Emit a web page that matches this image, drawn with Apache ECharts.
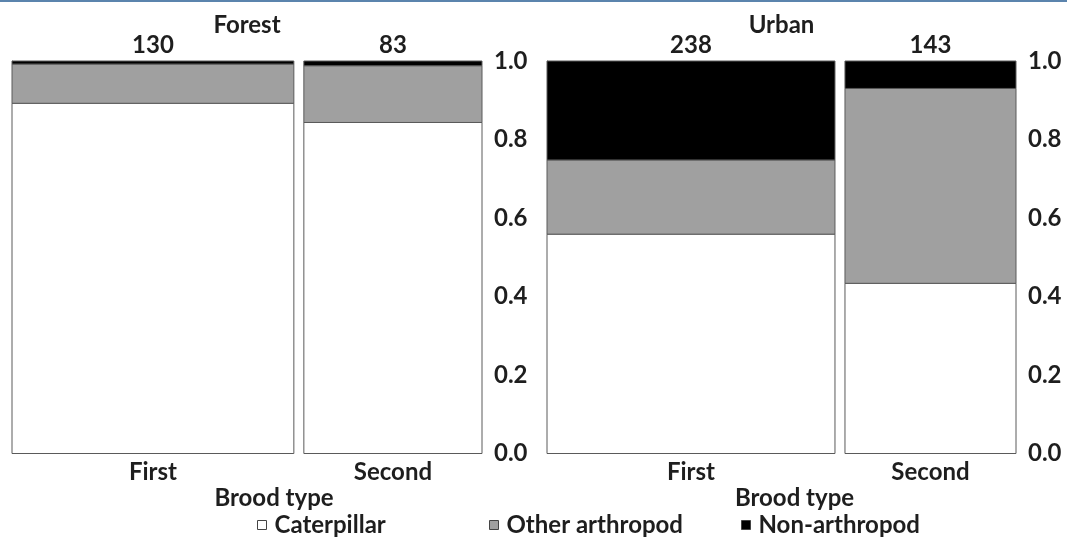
<!DOCTYPE html>
<html>
<head>
<meta charset="utf-8">
<script src="https://cdn.jsdelivr.net/npm/echarts@6/dist/echarts.min.js"></script>
<style>
html,body{margin:0;padding:0;background:#fff;}
#chart{width:1067px;height:541px;}
</style>
</head>
<body>
<div id="chart"></div>
<script>
// ---- data ----
const regions = ['Forest', 'Urban'];
const broods = ['First', 'Second'];
const categories = ['Caterpillar', 'Other arthropod', 'Non-arthropod'];
// counts per brood type (First, Second)
const forestCaterpillar = [116, 70];
const forestOther = [13, 12];
const forestNon = [1, 1];
const urbanCaterpillar = [133, 62];
const urbanOther = [45, 71];
const urbanNon = [60, 10];
const yTickLabels = ['0.0', '0.2', '0.4', '0.6', '0.8', '1.0'];

const panelCounts = [
  [forestCaterpillar, forestOther, forestNon],
  [urbanCaterpillar, urbanOther, urbanNon]
];
const catFill = ['#ffffff', '#a0a0a0', '#000000'];
const TXT = '#1e1e1e';
const FONT = 'Lato';
const FS = 24;
const GAP = 10;

function totals(p) {
  return broods.map((b, i) => panelCounts[p].reduce((s, arr) => s + arr[i], 0));
}

const grids = [
  { left: 12, top: 61, width: 470, bottom: 87.5 },
  { left: 547, top: 61, width: 469, bottom: 87.5 }
];
const nameShift = [54, 26];

const xAxes = grids.map((g, i) => ({
  type: 'value', gridIndex: i, min: 0, max: 1,
  name: 'Brood type', nameLocation: 'middle', nameGap: 33,
  nameTextStyle: { fontFamily: FONT, fontWeight: 'bold', fontSize: FS, color: TXT, padding: [0, 0, 0, nameShift[i]] },
  axisLine: { show: false }, axisTick: { show: false }, axisLabel: { show: false },
  splitLine: { show: false }
}));

const yAxes = grids.map((g, i) => ({
  type: 'value', gridIndex: i, position: 'right', min: 0, max: 1, interval: 0.2,
  axisLine: { show: true, lineStyle: { color: '#777', width: 1 } },
  axisTick: { show: true, length: 7, lineStyle: { color: '#777' } },
  axisLabel: {
    margin: 12, fontFamily: FONT, fontWeight: 'bold', fontSize: FS, color: TXT,
    formatter: v => yTickLabels[Math.round(v / 0.2)]
  },
  splitLine: { show: false }
}));

function xSpan(p, b) {
  const tot = totals(p);
  const grand = tot.reduce((a, c) => a + c, 0);
  let before = 0;
  for (let k = 0; k < b; k++) before += tot[k];
  return [before / grand, (before + tot[b]) / grand];
}

const series = [];
regions.forEach((reg, p) => {
  categories.forEach((cat, c) => {
    series.push({
      type: 'custom', name: cat, xAxisIndex: p, yAxisIndex: p,
      itemStyle: { color: catFill[c], borderColor: '#555', borderWidth: 1 },
      data: broods.map((b, i) => [i]),
      renderItem: function (params, api) {
        const b = api.value(0);
        const tot = totals(p)[b];
        let before = 0;
        for (let k = 0; k < c; k++) before += panelCounts[p][k][b];
        const y0 = before / tot;
        const y1 = (before + panelCounts[p][c][b]) / tot;
        const xs = xSpan(p, b);
        const p0 = api.coord([xs[0], y0]);
        const p1 = api.coord([xs[1], y1]);
        const left = p0[0] + (b > 0 ? GAP / 2 : 0);
        const right = p1[0] - (b < broods.length - 1 ? GAP / 2 : 0);
        return {
          type: 'rect',
          shape: { x: left, y: p1[1], width: right - left, height: p0[1] - p1[1] },
          style: { fill: catFill[c], stroke: '#5a5a5a', lineWidth: 1 }
        };
      }
    });
  });
  // labels: counts above, brood names below, region title
  series.push({
    type: 'custom', xAxisIndex: p, yAxisIndex: p, silent: true,
    data: broods.map((b, i) => [i]),
    renderItem: function (params, api) {
      const b = api.value(0);
      const xs = xSpan(p, b);
      const pa = api.coord([xs[0], 1]);
      const pb = api.coord([xs[1], 0]);
      const left = pa[0] + (b > 0 ? GAP / 2 : 0);
      const right = pb[0] - (b < broods.length - 1 ? GAP / 2 : 0);
      const cx = (left + right) / 2;
      const tf = { fontFamily: FONT, fontWeight: 'bold', fontSize: FS, fill: TXT, align: 'center', verticalAlign: 'middle' };
      const children = [
        { type: 'text', style: Object.assign({ x: cx, y: pa[1] - 16, text: String(totals(p)[b]) }, tf) },
        { type: 'text', style: Object.assign({ x: cx, y: pb[1] + 19, text: broods[b] }, tf) }
      ];
      if (b === 0) {
        const g0 = api.coord([0, 1]);
        const g1 = api.coord([1, 1]);
        children.push({ type: 'text', style: Object.assign({ x: (g0[0] + g1[0]) / 2, y: g0[1] - 36, text: reg }, tf) });
      }
      return { type: 'group', children: children };
    }
  });
});

const legendLeft = [252, 484, 736];
const legends = categories.map((c, i) => ({
  data: [{ name: c, itemStyle: { color: catFill[i], borderColor: '#444', borderWidth: 1 } }],
  left: legendLeft[i], top: 508,
  icon: 'rect', itemWidth: 9, itemHeight: 9,
  selectedMode: false,
  textStyle: { fontFamily: FONT, fontWeight: 'bold', fontSize: FS, color: TXT, padding: [0, 0, 0, 3] }
}));

const chart = echarts.init(document.getElementById('chart'), null, { renderer: 'canvas' });
chart.setOption({
  animation: false,
  backgroundColor: '#fff',
  grid: grids,
  xAxis: xAxes,
  yAxis: yAxes,
  legend: legends,
  graphic: [{
    type: 'rect', left: 0, top: 0, shape: { x: 0, y: 0, width: 1067, height: 2 },
    style: { fill: '#5b84ad' }, silent: true
  }],
  series: series
});
</script>
</body>
</html>
